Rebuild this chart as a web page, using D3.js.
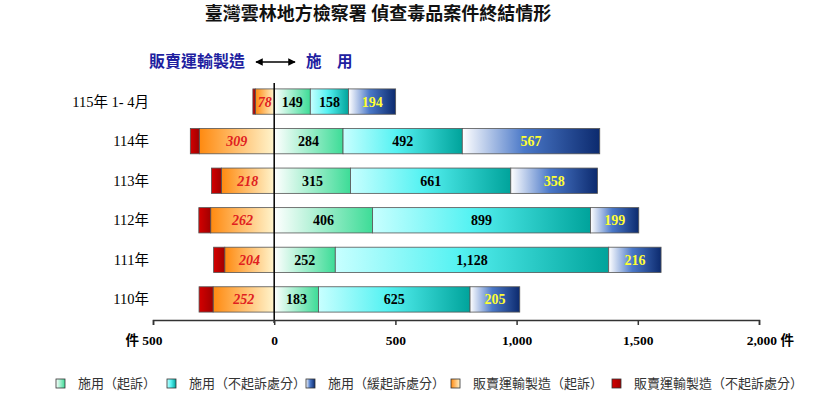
<!DOCTYPE html>
<html>
<head>
<meta charset="utf-8">
<script src="https://cdn.jsdelivr.net/npm/d3@7"></script>
<style>
  body { margin: 0; background: #fff; }
  text { font-family: "Liberation Serif", "Noto Sans CJK TC", serif; }
</style>
</head>
<body>
<svg id="chart" width="814" height="407"></svg>
<script>
const years = ["115年 1- 4月", "114年", "113年", "112年", "111年", "110年"];
const useProsecuted = [149, 284, 315, 406, 252, 183];
const useNotProsecuted = [158, 492, 661, 899, 1128, 625];
const useDeferred = [194, 567, 358, 199, 216, 205];
const sellProsecuted = [78, 309, 218, 262, 204, 252];
const sellNotProsecuted = [10, 37, 41, 49, 46, 58];
const tickValues = [-500, 0, 500, 1000, 1500, 2000];
const legendNames = ["施用（起訴）", "施用（不起訴處分）", "施用（緩起訴處分）", "販賣運輸製造（起訴）", "販賣運輸製造（不起訴處分）"];

const svg = d3.select("#chart");
const cjk = "'Noto Sans CJK TC', sans-serif";

const x = d3.scaleLinear().domain([-500, 2000]).range([153, 759]);
const y = d3.scaleBand().domain(years).range([81, 320]).paddingInner(0.36).paddingOuter(0.2);

// gradients
const defs = svg.append("defs");
const grads = [
  { id: "gGreen", stops: [["0%", "#ffffff"], ["100%", "#3ddc97"]] },
  { id: "gCyan", stops: [["0%", "#c8ffff"], ["45%", "#55f2f2"], ["100%", "#00a39b"]] },
  { id: "gBlue", stops: [["0%", "#ffffff"], ["45%", "#4a78c8"], ["100%", "#0c2a6e"]] },
  { id: "gOrange", stops: [["0%", "#ff8a10"], ["100%", "#fff4cc"]] },
  { id: "gRed", stops: [["0%", "#d40000"], ["100%", "#a00000"]] }
];
grads.forEach(gr => {
  const lg = defs.append("linearGradient").attr("id", gr.id)
    .attr("x1", "0%").attr("x2", "100%").attr("y1", "0%").attr("y2", "0%");
  gr.stops.forEach(s => lg.append("stop").attr("offset", s[0]).attr("stop-color", s[1]));
});

// build segments
const segs = [];
years.forEach((yr, i) => {
  let a = 0;
  [[useProsecuted, "gGreen", "#000", "normal"], [useNotProsecuted, "gCyan", "#000", "normal"], [useDeferred, "gBlue", "#ffff33", "normal"]]
    .forEach(([arr, fill, col, st]) => {
      segs.push({ yr, x0: a, x1: a + arr[i], v: arr[i], fill, col, st });
      a += arr[i];
    });
  const o = -sellProsecuted[i];
  segs.push({ yr, x0: o, x1: 0, v: sellProsecuted[i], fill: "gOrange", col: "#e02020", st: "italic" });
  segs.push({ yr, x0: o - sellNotProsecuted[i], x1: o, v: null, fill: "gRed" });
});

const g = svg.append("g");
g.selectAll("rect.seg").data(segs).join("rect")
  .attr("class", "seg")
  .attr("x", d => x(d.x0))
  .attr("width", d => x(d.x1) - x(d.x0))
  .attr("y", d => y(d.yr))
  .attr("height", y.bandwidth())
  .attr("fill", d => `url(#${d.fill})`)
  .attr("stroke", "#555")
  .attr("stroke-width", 0.8);

g.selectAll("text.val").data(segs.filter(d => d.v !== null)).join("text")
  .attr("class", "val")
  .attr("x", d => (x(d.x0) + x(d.x1)) / 2)
  .attr("y", d => y(d.yr) + y.bandwidth() / 2 + 5)
  .attr("text-anchor", "middle")
  .attr("font-size", 14)
  .attr("font-weight", "bold")
  .attr("font-style", d => d.st)
  .attr("fill", d => d.col)
  .text(d => d3.format(",")(d.v));

// year labels
svg.selectAll("text.yr").data(years).join("text")
  .attr("class", "yr")
  .attr("x", 149)
  .attr("y", d => y(d) + y.bandwidth() / 2 + 5)
  .attr("text-anchor", "end")
  .attr("font-size", 14.5)
  .text(d => d);

// zero line
svg.append("line")
  .attr("x1", x(0)).attr("x2", x(0))
  .attr("y1", 83).attr("y2", 323)
  .attr("stroke", "#000").attr("stroke-width", 1.5);

// axis
const axis = svg.append("g")
  .attr("transform", "translate(0,320)")
  .call(d3.axisBottom(x).tickValues(tickValues).tickSize(5)
    .tickFormat(d => d === -500 ? "件 500" : d === 2000 ? "2,000 件" : d3.format(",")(d)));
axis.select(".domain").attr("stroke", "#333").attr("stroke-width", 1.5);
axis.selectAll(".tick line").attr("stroke", "#333").attr("stroke-width", 1.5);
axis.selectAll(".tick text")
  .attr("font-family", "'Liberation Serif', 'Noto Sans CJK TC', serif")
  .attr("font-size", 13.5).attr("font-weight", "bold").attr("fill", "#000").attr("dy", "1.25em");
axis.selectAll(".tick text").filter(d => d === -500).attr("dx", "-0.7em");
axis.selectAll(".tick text").filter(d => d === 2000).attr("dx", "0.8em");

// title
svg.append("text")
  .attr("x", 378).attr("y", 20)
  .attr("text-anchor", "middle")
  .attr("font-family", cjk)
  .attr("font-size", 18)
  .attr("font-weight", "bold")
  .attr("fill", "#111")
  .text("臺灣雲林地方檢察署 偵查毒品案件終結情形");

// direction labels
svg.append("text")
  .attr("x", 245).attr("y", 67)
  .attr("text-anchor", "end")
  .attr("font-family", cjk).attr("font-size", 16).attr("font-weight", "bold")
  .attr("fill", "#2020a0")
  .text("販賣運輸製造");
svg.append("text")
  .attr("x", 306).attr("y", 67)
  .attr("font-family", cjk).attr("font-size", 15.5).attr("font-weight", "bold")
  .attr("fill", "#2020a0")
  .text("施　用");
defs.append("marker").attr("id", "arr").attr("viewBox", "0 0 10 10")
  .attr("refX", 9).attr("refY", 5).attr("markerWidth", 5).attr("markerHeight", 5)
  .attr("orient", "auto-start-reverse")
  .append("path").attr("d", "M0,0L10,5L0,10z").attr("fill", "#000");
svg.append("line")
  .attr("x1", 256).attr("x2", 295).attr("y1", 62).attr("y2", 62)
  .attr("stroke", "#000").attr("stroke-width", 1.5)
  .attr("marker-start", "url(#arr)").attr("marker-end", "url(#arr)");

// legend
const legendX = [56, 167, 306, 451, 612];
const legendFill = ["gGreen", "gCyan", "gBlue", "gOrange", "gRed"];
const lg = svg.selectAll("g.leg").data(legendNames).join("g")
  .attr("class", "leg")
  .attr("transform", (d, i) => `translate(${legendX[i]},379)`);
lg.append("rect")
  .attr("width", 9).attr("height", 9)
  .attr("fill", (d, i) => `url(#${legendFill[i]})`)
  .attr("stroke", "#333").attr("stroke-width", 0.8);
lg.append("text")
  .attr("x", 22).attr("y", 9)
  .attr("font-family", cjk).attr("font-size", 13)
  .attr("fill", "#333")
  .text(d => d);
</script>
</body>
</html>
